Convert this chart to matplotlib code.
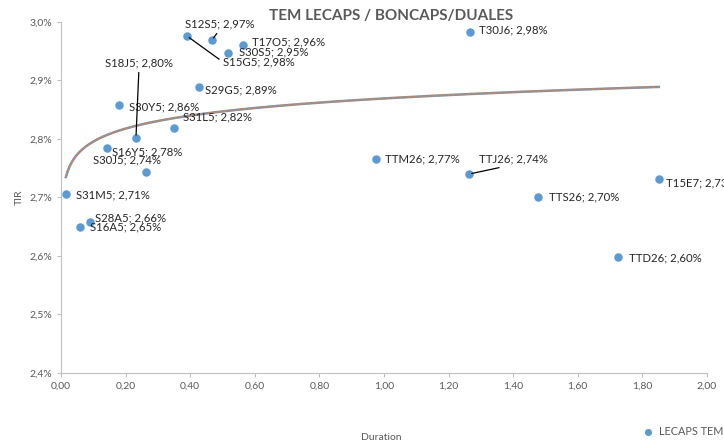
import numpy as np
import matplotlib.pyplot as plt
from matplotlib.ticker import FuncFormatter

plt.rcParams['font.family'] = ['Lato', 'DejaVu Sans']

# bonds: ticker, duration, TIR (%)
tickers = ["S31M5", "S16A5", "S28A5", "S16Y5", "S30Y5", "S18J5", "S30J5",
           "S31L5", "S15G5", "S29G5", "S12S5", "S30S5", "T17O5",
           "TTM26", "TTJ26", "T30J6", "TTS26", "TTD26", "T15E7"]
duration = [0.015, 0.059, 0.090, 0.142, 0.180, 0.232, 0.263,
            0.350, 0.390, 0.427, 0.467, 0.517, 0.563,
            0.975, 1.263, 1.266, 1.477, 1.724, 1.851]
tir = [2.706, 2.650, 2.658, 2.785, 2.858, 2.802, 2.744,
       2.819, 2.976, 2.889, 2.969, 2.947, 2.961,
       2.766, 2.740, 2.983, 2.701, 2.598, 2.732]
label_vals = ["2,71%", "2,65%", "2,66%", "2,78%", "2,86%", "2,80%", "2,74%",
              "2,82%", "2,98%", "2,89%", "2,97%", "2,95%", "2,96%",
              "2,77%", "2,74%", "2,98%", "2,70%", "2,60%", "2,73%"]

# logarithmic trendline as shown on the chart: y = a + b*ln(x)
trend_a = 2.8693
trend_b = 0.032

# label offsets in pixels (dx, dy) and leader-line anchor on the text (or None)
label_offsets = {
    "S31M5": (10, -1, None), "S16A5": (10, 0, None), "S28A5": (5, 4, None),
    "S16Y5": (5, -4, None), "S30Y5": (10, -2, None), "S18J5": (-31, 75, (0.5, 0)),
    "S30J5": (-53, 12, None), "S31L5": (9, 11, None), "S15G5": (36, -26, (0, 0.5)),
    "S29G5": (6, -3, None), "S12S5": (-27, 16, (0.5, 0)), "S30S5": (11, 1, None),
    "T17O5": (9, 3, None), "TTM26": (9, 0, None), "TTJ26": (10, 15, (0.5, 0)),
    "T30J6": (9, 2, None), "TTS26": (11, 0, None), "TTD26": (11, -1, None),
    "T15E7": (7, -4, None),
}

gray = "#595959"
blue = "#5B9BD5"

fig = plt.figure(figsize=(7.24, 4.46), dpi=100)
ax = fig.add_axes([0.0843, 0.1637, 0.8922, 0.787])

xs = np.linspace(min(duration), max(duration), 300)
ys = trend_a + trend_b * np.log(xs)
ax.plot(xs, ys, color=blue, lw=1.8, zorder=2)
ax.plot(xs, ys, color="#ED7D31", lw=1.2, ls=(0, (2, 1)), zorder=2)

ax.scatter(duration, tir, s=26, color=blue, zorder=3, label="LECAPS TEM")

for t, d, v, lv in zip(tickers, duration, tir, label_vals):
    dx, dy, rel = label_offsets[t]
    kw = {}
    if rel is not None:
        kw['arrowprops'] = dict(arrowstyle='-', color='black', lw=0.9,
                                shrinkA=1, shrinkB=2, relpos=rel)
    ax.annotate(f"{t}; {lv}", (d, v), xytext=(dx, dy),
                textcoords='offset pixels', ha='left', va='center',
                fontsize=8.2, color='#262626', zorder=4, **kw)

ax.set_xlim(0, 2)
ax.set_ylim(2.4, 3.0)
ax.set_xticks(np.arange(0, 2.01, 0.2))
ax.set_yticks(np.arange(2.4, 3.01, 0.1))
ax.xaxis.set_major_formatter(FuncFormatter(lambda v, p: f"{v:.2f}".replace(".", ",")))
ax.yaxis.set_major_formatter(FuncFormatter(lambda v, p: f"{v:.1f}%".replace(".", ",")))
ax.tick_params(labelsize=7.5, colors=gray, length=3, width=0.8, color="#BFBFBF")
for s in ["top", "right"]:
    ax.spines[s].set_visible(False)
for s in ["left", "bottom"]:
    ax.spines[s].set_color("#BFBFBF")

fig.text(0.54, 0.965, "TEM LECAPS / BONCAPS/DUALES", ha='center', va='center',
         fontsize=11, fontweight='bold', color=gray)
fig.text(0.026, 0.557, "TIR", rotation=90, ha='center', va='center',
         fontsize=7.5, color=gray)
fig.text(0.526, 0.018, "Duration", ha='center', va='center', fontsize=7.5, color=gray)

ax.legend(loc='center left', bbox_to_anchor=(0.874, 0.032),
          bbox_transform=fig.transFigure, frameon=False, fontsize=7.8,
          labelcolor=gray, handletextpad=0.5, handlelength=1.0, markerscale=0.8)

fig.savefig("out.png", dpi=100)
